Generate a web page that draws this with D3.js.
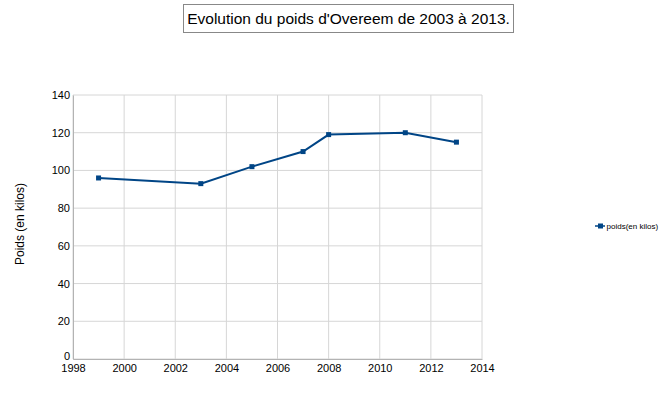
<!DOCTYPE html>
<html>
<head>
<meta charset="utf-8">
<script src="https://cdn.jsdelivr.net/npm/d3@7"></script>
<style>
  body { margin: 0; background: #fff; }
  svg { font-family: "Liberation Sans", Arial, sans-serif; }
</style>
</head>
<body>
<svg id="drawing_chart"></svg>
<script>
const years = [1999, 2003, 2005, 2007, 2008, 2011, 2013];
const poids = [96, 93, 102, 110, 119, 120, 115];
const xTicks = [1998, 2000, 2002, 2004, 2006, 2008, 2010, 2012, 2014];
const yTicks = [0, 20, 40, 60, 80, 100, 120, 140];
const seriesName = "poids(en kilos)";
const titleText = "Evolution du poids d'Overeem de 2003 à 2013.";
const yTitle = "Poids (en kilos)";

const config = {
    width: 667,
    height: 394,
    margin: {top: 95, right: 185, bottom: 35, left: 73}
};

const svg = d3.select('#drawing_chart')
    .attr('width', config.width)
    .attr('height', config.height);

const inner_width = config.width - config.margin.left - config.margin.right;
const inner_height = config.height - config.margin.top - config.margin.bottom;

const chart = svg.append('g')
    .attr('transform', `translate(${config.margin.left}, ${config.margin.top})`);

const xscale = d3.scaleLinear().domain([1998, 2014]).range([0, inner_width]);
const yscale = d3.scaleLinear().domain([0, 140]).range([inner_height, 0]);

// grid
chart.append('g').selectAll('line')
    .data(xTicks)
    .enter().append('line')
    .attr('x1', d => xscale(d)).attr('x2', d => xscale(d))
    .attr('y1', 0).attr('y2', inner_height)
    .attr('stroke', '#d6d6d6').attr('stroke-width', 1);

chart.append('g').selectAll('line')
    .data(yTicks)
    .enter().append('line')
    .attr('x1', 0).attr('x2', inner_width)
    .attr('y1', d => yscale(d)).attr('y2', d => yscale(d))
    .attr('stroke', '#d6d6d6').attr('stroke-width', 1);

// axes
const xaxis = d3.axisBottom(xscale).tickValues(xTicks).tickFormat(d3.format('d')).tickSize(0).tickPadding(5);
const xg = chart.append('g').attr('transform', `translate(0, ${inner_height})`).call(xaxis);
const yaxis = d3.axisLeft(yscale).tickValues(yTicks).tickSize(0).tickPadding(3);
const yg = chart.append('g').call(yaxis);
[xg, yg].forEach(g => {
    g.select('.domain').attr('stroke', '#b3b3b3');
    g.selectAll('text').attr('font-size', '11px').attr('fill', '#000')
        .attr('font-family', '"Liberation Sans", Arial, sans-serif');
});
yg.selectAll('.tick').filter(d => d === 0).select('text').attr('dy', '0.05em');

// line
const line = d3.line()
    .x((d, i) => xscale(years[i]))
    .y(d => yscale(d));

chart.append('path')
    .datum(poids)
    .attr('d', line)
    .attr('fill', 'none')
    .attr('stroke', '#004586')
    .attr('stroke-width', 2);

chart.selectAll('rect.pt')
    .data(poids)
    .enter().append('rect')
    .attr('class', 'pt')
    .attr('x', (d, i) => xscale(years[i]) - 2.5)
    .attr('y', d => yscale(d) - 2.5)
    .attr('width', 5).attr('height', 5)
    .attr('fill', '#004586');

// title
svg.append('rect')
    .attr('x', 183.5).attr('y', 4.5)
    .attr('width', 330).attr('height', 28)
    .attr('fill', '#fff').attr('stroke', '#888').attr('stroke-width', 1);
svg.append('text')
    .attr('x', 348.5).attr('y', 24)
    .attr('text-anchor', 'middle')
    .attr('font-size', '15.5px')
    .attr('fill', '#000')
    .text(titleText);

// y title
svg.append('text')
    .attr('transform', 'translate(24, 224) rotate(-90)')
    .attr('text-anchor', 'middle')
    .attr('font-size', '12px')
    .attr('fill', '#000')
    .text(yTitle);

// legend
const legend = svg.append('g').attr('transform', 'translate(595, 226)');
legend.append('line').attr('x1', 0).attr('x2', 10).attr('y1', 0).attr('y2', 0)
    .attr('stroke', '#004586').attr('stroke-width', 1.5);
legend.append('rect').attr('x', 3).attr('y', -2.5).attr('width', 5).attr('height', 5)
    .attr('fill', '#004586');
legend.append('text').attr('x', 11.5).attr('y', 2.8)
    .attr('font-size', '8px').attr('fill', '#000')
    .text(seriesName);
</script>
</body>
</html>
